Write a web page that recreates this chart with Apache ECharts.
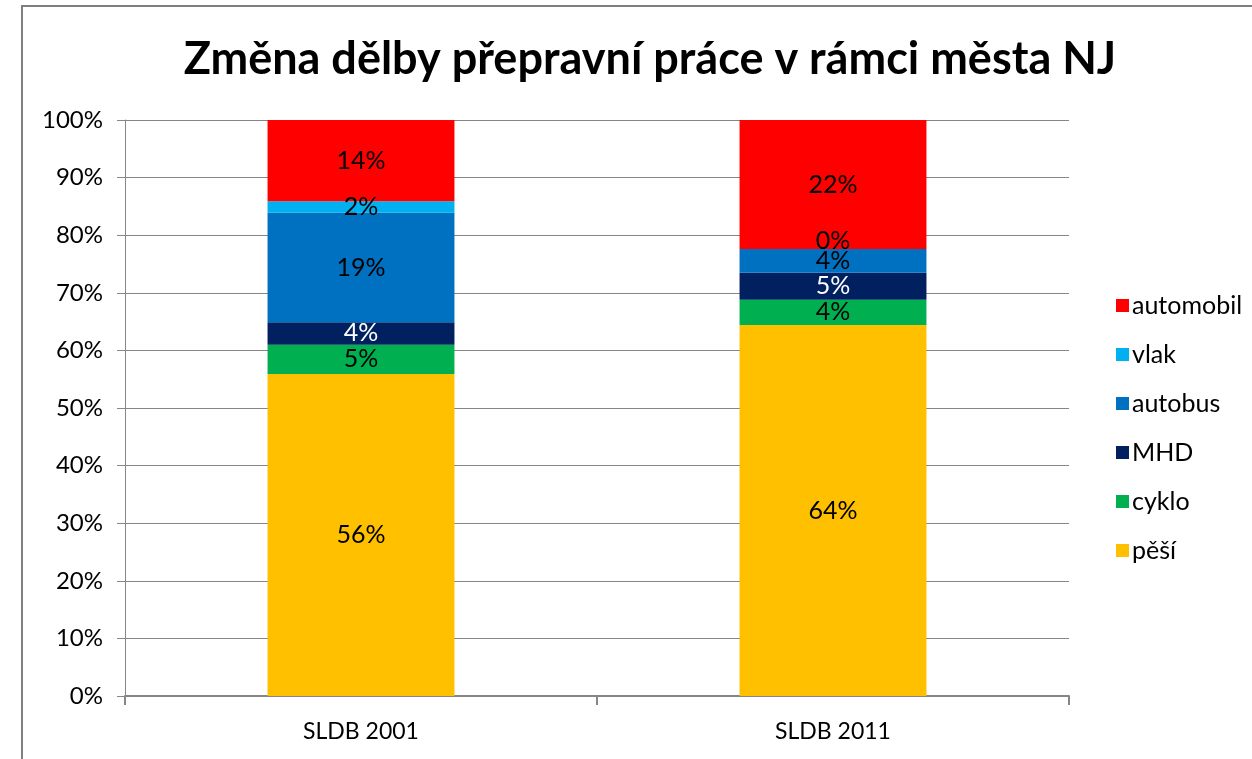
<!DOCTYPE html>
<html>
<head>
<meta charset="utf-8">
<script src="https://cdn.jsdelivr.net/npm/echarts@6/dist/echarts.min.js"></script>
<style>
  html, body { margin: 0; padding: 0; background: #fff; }
  #chart { width: 1252px; height: 759px; }
</style>
</head>
<body>
<div id="chart"></div>
<script>
// Modal split of trips within the city, census years 2001 and 2011 (percent shares)
const categories = ['SLDB 2001', 'SLDB 2011'];
const yTicks = ['0%', '10%', '20%', '30%', '40%', '50%', '60%', '70%', '80%', '90%', '100%'];

const pesi      = [55.9, 64.4];
const cyklo     = [5.1, 4.4];
const mhd       = [3.9, 4.7];
const autobus   = [19.0, 4.1];
const vlak      = [2.0, 0.0];
const automobil = [14.1, 22.4];

const seriesDefs = [
  { name: 'pěší',      data: pesi,      color: '#FFC000', label: '#000000' },
  { name: 'cyklo',     data: cyklo,     color: '#00B050', label: '#000000' },
  { name: 'MHD',       data: mhd,       color: '#002060', label: '#FFFFFF' },
  { name: 'autobus',   data: autobus,   color: '#0070C0', label: '#000000' },
  { name: 'vlak',      data: vlak,      color: '#00B0F0', label: '#000000' },
  { name: 'automobil', data: automobil, color: '#FF0000', label: '#000000' }
];

const FONT = 'Lato, "Open Sans", sans-serif';

const chart = echarts.init(document.getElementById('chart'), null, { renderer: 'canvas' });

const series = seriesDefs.map(s => ({
  name: s.name,
  type: 'bar',
  stack: 'total',
  barWidth: '39.6%',
  itemStyle: { color: s.color },
  data: s.data.map(v => {
    const item = { value: v };
    // a zero share sits on the boundary; lift its label just above it
    if (v === 0) item.label = { offset: [0, -8] };
    return item;
  }),
  label: {
    show: true,
    position: 'inside',
    color: s.label,
    fontFamily: FONT,
    fontSize: 25,
    formatter: p => Math.round(p.value) + '%'
  },
  emphasis: { disabled: true }
}));

chart.setOption({
  animation: false,
  backgroundColor: '#ffffff',
  title: {
    text: 'Změna dělby přepravní práce v rámci města NJ',
    left: 645,
    top: 32,
    textAlign: 'center',
    textStyle: { fontFamily: FONT, fontWeight: 'bold', fontSize: 45, color: '#000000' }
  },
  legend: {
    orient: 'vertical',
    left: 1111,
    top: 288,
    itemWidth: 13,
    itemHeight: 13,
    itemGap: 24,
    icon: 'rect',
    data: ['automobil', 'vlak', 'autobus', 'MHD', 'cyklo', 'pěší'],
    textStyle: { fontFamily: FONT, fontSize: 25, lineHeight: 25, color: '#000000', padding: [0, 0, 0, -2] }
  },
  grid: { left: 125, right: 183, top: 120, bottom: 63, containLabel: false },
  xAxis: {
    type: 'category',
    data: categories,
    axisLine: { lineStyle: { color: '#868686', width: 2 } },
    axisTick: { show: true, length: 9, lineStyle: { color: '#868686', width: 2 } },
    axisLabel: { fontFamily: FONT, fontSize: 23, color: '#000000', margin: 24 }
  },
  yAxis: {
    type: 'value',
    min: 0,
    max: 100,
    interval: 10,
    axisLine: { show: true, lineStyle: { color: '#868686', width: 1 } },
    axisTick: { show: true, length: 8, lineStyle: { color: '#868686' } },
    splitLine: { lineStyle: { color: '#868686', width: 1 } },
    axisLabel: {
      fontFamily: FONT, fontSize: 24, color: '#000000', margin: 22,
      formatter: v => yTicks[Math.round(v / 10)]
    }
  },
  graphic: [{
    type: 'rect',
    shape: { x: 22, y: 6, width: 1300, height: 800 },
    style: { fill: 'none', stroke: '#7F7F7F', lineWidth: 2 },
    silent: true,
    z: 100
  }],
  series: series
});
</script>
</body>
</html>
